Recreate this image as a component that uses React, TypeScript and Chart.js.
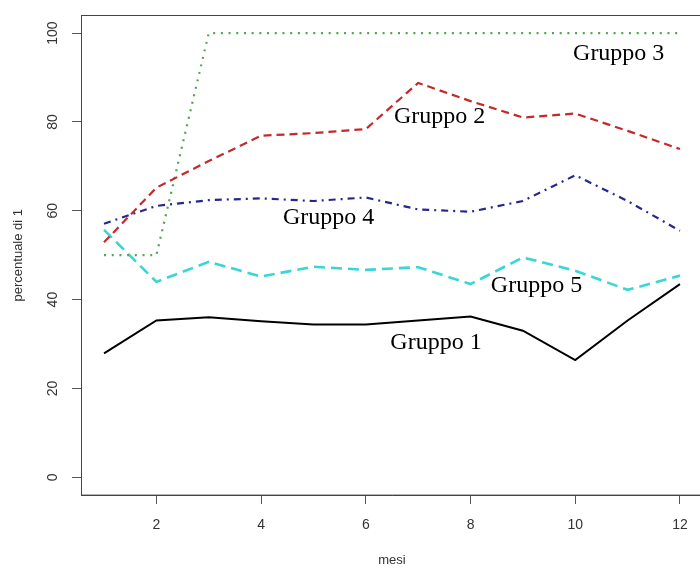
import React, { useEffect, useRef } from "react";
import { Chart, registerables } from "chart.js";

Chart.register(...registerables);

const months = [1, 2, 3, 4, 5, 6, 7, 8, 9, 10, 11, 12];
const gruppo1 = [27.9, 35.3, 36.0, 35.1, 34.4, 34.4, 35.3, 36.2, 33.0, 26.4, 35.3, 43.5];
const gruppo2 = [52.9, 65.2, 71.2, 76.9, 77.5, 78.4, 88.8, 84.7, 81.0, 81.9, 78.0, 73.9];
const gruppo3 = [50, 50, 100, 100, 100, 100, 100, 100, 100, 100, 100, 100];
const gruppo4 = [57.1, 61.1, 62.4, 62.8, 62.2, 63.0, 60.3, 59.8, 62.2, 68.0, 62.2, 55.5];
const gruppo5 = [55.7, 44.0, 48.5, 45.2, 47.4, 46.7, 47.3, 43.5, 49.5, 46.5, 42.2, 45.4];

const xTicks = [2, 4, 6, 8, 10, 12];
const yTicks = [0, 20, 40, 60, 80, 100];

const labelTexts = ["Gruppo 1", "Gruppo 2", "Gruppo 3", "Gruppo 4", "Gruppo 5"];
const labelX = [7.34, 7.41, 10.83, 5.29, 9.26];
const labelY = [30.2, 81.3, 95.4, 58.4, 43.1];

const xTitle = "mesi";
const yTitle = "percentuale di 1";

export default function App() {
  const ref = useRef<HTMLCanvasElement | null>(null);

  useEffect(() => {
    if (!ref.current) return;
    const pts = (arr: number[]) => months.map((m, i) => ({ x: m, y: arr[i] }));

    const boxPlugin = {
      id: "boxPlugin",
      afterDraw(chart: any) {
        const { ctx, chartArea } = chart;
        ctx.save();
        ctx.strokeStyle = "#444";
        ctx.lineWidth = 1;
        ctx.strokeRect(
          Math.round(chartArea.left) + 0.5,
          Math.round(chartArea.top) + 0.5,
          chartArea.right - chartArea.left,
          chartArea.bottom - chartArea.top
        );
        ctx.restore();
      },
    };

    const labelPlugin = {
      id: "labelPlugin",
      afterDatasetsDraw(chart: any) {
        const { ctx, scales } = chart;
        ctx.save();
        ctx.font = '24px "Liberation Serif"';
        ctx.fillStyle = "#000";
        ctx.textAlign = "center";
        ctx.textBaseline = "middle";
        labelTexts.forEach((t, i) => {
          ctx.fillText(t, scales.x.getPixelForValue(labelX[i]), scales.y.getPixelForValue(labelY[i]));
        });
        ctx.restore();
      },
    };

    const tickFont = { family: '"Liberation Sans", Arial, sans-serif', size: 14 };
    const titleFont = { family: '"Liberation Sans", Arial, sans-serif', size: 13 };

    const chart = new Chart(ref.current, {
      type: "line",
      data: {
        datasets: [
          { label: "Gruppo 1", data: pts(gruppo1), borderColor: "#000000", borderWidth: 2 },
          { label: "Gruppo 2", data: pts(gruppo2), borderColor: "#c42a2a", borderWidth: 2.2, borderDash: [8, 5] },
          { label: "Gruppo 3", data: pts(gruppo3), borderColor: "#4fa64f", borderWidth: 2.2, borderDash: [2, 5.7] },
          { label: "Gruppo 4", data: pts(gruppo4), borderColor: "#262690", borderWidth: 2.2, borderDash: [7, 5, 2, 5] },
          { label: "Gruppo 5", data: pts(gruppo5), borderColor: "#38d6d6", borderWidth: 2.6, borderDash: [11, 6] },
        ] as any,
      },
      options: {
        animation: false,
        responsive: false,
        devicePixelRatio: 1,
        layout: { padding: { top: 14, right: 9, bottom: 0, left: 0 } },
        elements: { point: { radius: 0 }, line: { tension: 0, fill: false } },
        plugins: { legend: { display: false }, tooltip: { enabled: false } },
        scales: {
          x: {
            type: "linear",
            min: 0.56,
            max: 12.44,
            afterBuildTicks: (s: any) => {
              s.ticks = xTicks.map((v) => ({ value: v }));
            },
            afterFit: (s: any) => {
              s.height = 75;
            },
            grid: { drawOnChartArea: false, drawTicks: true, tickLength: 9, color: "#555" },
            border: { display: true, color: "#444" },
            ticks: { font: tickFont, color: "#333", padding: 13, maxRotation: 0, minRotation: 0, callback: (v: any) => String(v) },
            title: { display: true, text: xTitle, font: titleFont, color: "#333", padding: { top: 0, bottom: 2 } },
          },
          y: {
            type: "linear",
            min: -4,
            max: 104,
            afterBuildTicks: (s: any) => {
              s.ticks = yTicks.map((v) => ({ value: v }));
            },
            afterFit: (s: any) => {
              s.width = 81;
            },
            grid: { drawOnChartArea: false, drawTicks: true, tickLength: 9, color: "#555" },
            border: { display: true, color: "#444" },
            ticks: { font: tickFont, color: "#333", padding: 7, minRotation: 90, maxRotation: 90, crossAlign: "center", callback: (v: any) => String(v) },
            title: { display: true, text: yTitle, font: titleFont, color: "#333", padding: { top: 11, bottom: 0 } },
          },
        },
      } as any,
      plugins: [boxPlugin, labelPlugin],
    });
    return () => chart.destroy();
  }, []);

  return (
    <div style={{ position: "fixed", left: 0, top: 0, width: 700, height: 570, overflow: "hidden", background: "#fff" }}>
      <canvas ref={ref} width={712} height={570} style={{ display: "block" }} />
    </div>
  );
}
